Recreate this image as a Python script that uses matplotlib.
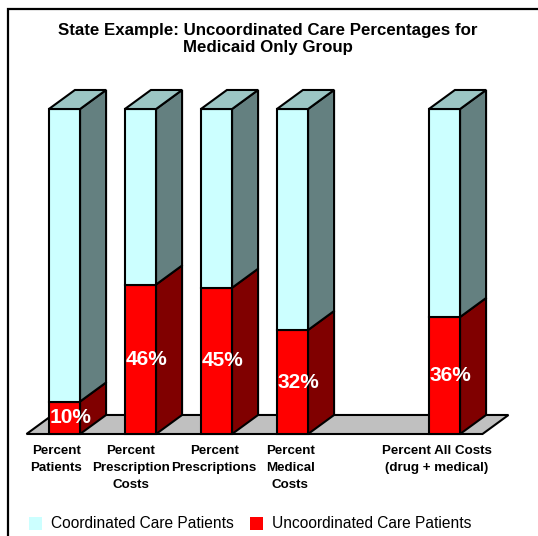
import matplotlib.pyplot as plt
from matplotlib.patches import Polygon, Rectangle

plt.rcParams['font.family'] = ['Liberation Sans', 'DejaVu Sans']

# data
categories = ['Percent\nPatients', 'Percent\nPrescription\nCosts', 'Percent\nPrescriptions',
              'Percent\nMedical\nCosts', 'Percent All Costs\n(drug + medical)']
positions = [0, 1, 2, 3, 5]
uncoordinated = [10, 46, 45, 32, 36]
coordinated = [100 - v for v in uncoordinated]
title = 'State Example: Uncoordinated Care Percentages for\nMedicaid Only Group'
legend_labels = ['Coordinated Care Patients', 'Uncoordinated Care Patients']

# colours
cyan_front, cyan_side, cyan_top = '#CCFFFF', '#648080', '#9CC6C4'
red_front, red_side = '#FF0000', '#800000'
floor_col = '#C0C0C0'

W, H = 538, 536
fig = plt.figure(figsize=(W / 100, H / 100), dpi=100)
ax = fig.add_axes([0, 0, 1, 1])
ax.set_xlim(-64.5 / 76, (W - 64.5) / 76)
ax.set_ylim((434 - H) / 3.25, 434 / 3.25)
ax.axis('off')

w = 0.41      # bar width (category units)
dx = 0.342    # depth offset x
dy = 5.85     # depth offset y (percent units)
lw = 1.5
label_shift = [-0.11, -0.13, -0.03, -0.03, -0.10]

# floor
ax.add_patch(Polygon([(-0.5, 0), (5.5, 0), (5.5 + dx, dy), (-0.5 + dx, dy)],
                     closed=True, fc=floor_col, ec='black', lw=lw, zorder=1))

for x, r, c in zip(positions, uncoordinated, coordinated):
    xl, xr = x - w / 2, x + w / 2
    top = r + c
    z = 2 + x
    ax.bar(x, r, width=w, color=red_front, edgecolor='black', lw=lw, zorder=z)
    ax.bar(x, c, bottom=r, width=w, color=cyan_front, edgecolor='black', lw=lw, zorder=z)
    ax.add_patch(Polygon([(xr, 0), (xr + dx, dy), (xr + dx, r + dy), (xr, r)],
                         closed=True, fc=red_side, ec='black', lw=lw, zorder=z))
    ax.add_patch(Polygon([(xr, r), (xr + dx, r + dy), (xr + dx, top + dy), (xr, top)],
                         closed=True, fc=cyan_side, ec='black', lw=lw, zorder=z))
    ax.add_patch(Polygon([(xl, top), (xr, top), (xr + dx, top + dy), (xl + dx, top + dy)],
                         closed=True, fc=cyan_top, ec='black', lw=lw, zorder=z))
    ax.text(x + 0.08, r / 2, f'{r}%', color='white', fontsize=15, fontweight='bold',
            ha='center', va='center', zorder=z + 0.5)

for x, s, lab in zip(positions, label_shift, categories):
    ax.text(x + s, -3.4, lab, fontsize=9.6, fontweight='bold', ha='center', va='top',
            linespacing=1.55, zorder=10)

# title
fig.text(268 / W, 1 - 39 / H, title, fontsize=12.2, fontweight='bold', ha='center',
         va='center', linespacing=1.1)

# legend
leg_cols = [cyan_front, red_front]
leg_x = [29, 250]
for lx, col, lab in zip(leg_x, leg_cols, legend_labels):
    fig.patches.append(Rectangle((lx / W, 1 - 530 / H), 13 / W, 13 / H,
                                 transform=fig.transFigure, fc=col, ec='none'))
    fig.text((lx + 22) / W, 1 - 524 / H, lab, fontsize=11.2, ha='left', va='center')

# outer frame
fig.patches.append(Rectangle((7.5 / W, -0.05), 1.1, 1 - 9 / H + 0.05,
                             transform=fig.transFigure, fill=False, ec='black', lw=1.6))

fig.savefig('out.png', dpi=100)
